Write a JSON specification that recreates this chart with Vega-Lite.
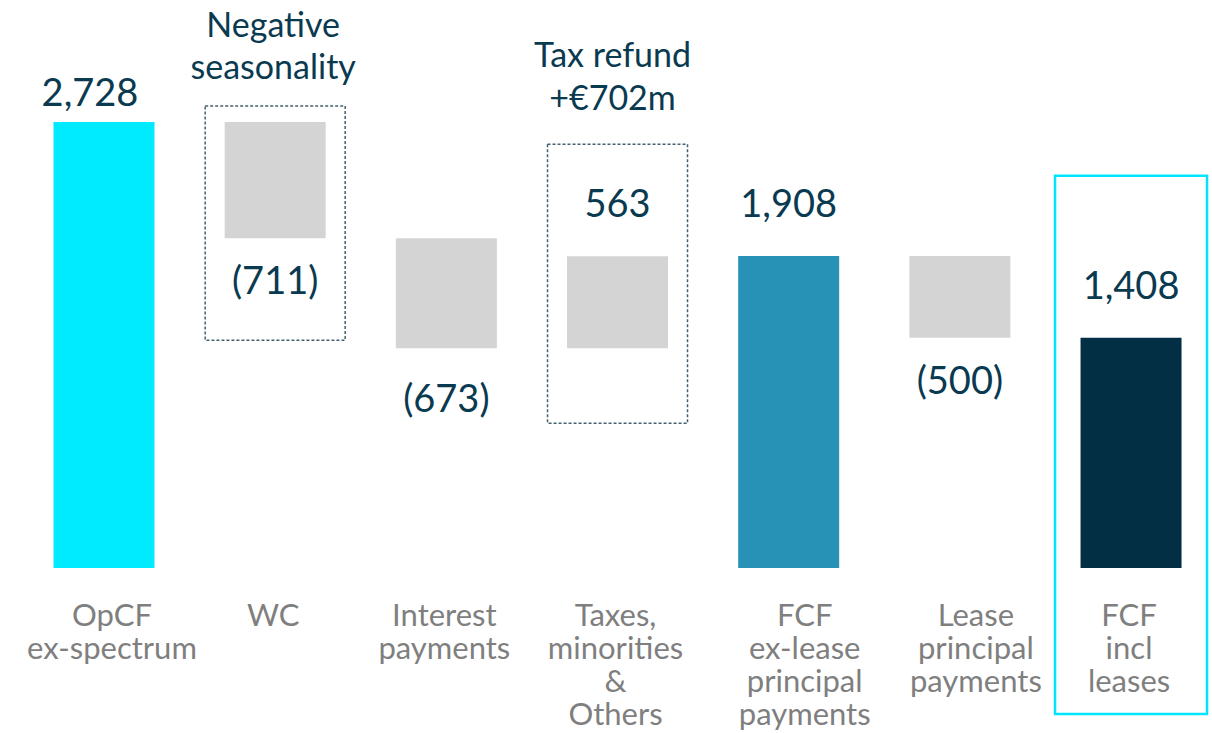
{
  "$schema": "https://vega.github.io/schema/vega-lite/v6.json",
  "width": 1212,
  "height": 733,
  "autosize": {"type": "fit", "contains": "padding"},
  "padding": 0,
  "background": "white",
  "config": {"view": {"stroke": null}, "text": {"font": "Lato"}},
  "data": {
    "values": [
      {"i": 0, "cat": ["OpCF", "ex-spectrum"], "start": 0, "end": 2728, "label": "2,728", "grp": "opcf"},
      {"i": 1, "cat": ["WC"], "start": 2728, "end": 2017, "label": "(711)", "grp": "chg", "note": ["Negative", "seasonality"]},
      {"i": 2, "cat": ["Interest", "payments"], "start": 2017, "end": 1344, "label": "(673)", "grp": "chg"},
      {"i": 3, "cat": ["Taxes,", "minorities", "&", "Others"], "start": 1344, "end": 1907, "label": "563", "grp": "chg", "note": ["Tax refund", "+€702m"]},
      {"i": 4, "cat": ["FCF", "ex-lease", "principal", "payments"], "start": 0, "end": 1908, "label": "1,908", "grp": "fcfex"},
      {"i": 5, "cat": ["Lease", "principal", "payments"], "start": 1908, "end": 1408, "label": "(500)", "grp": "chg"},
      {"i": 6, "cat": ["FCF", "incl", "leases"], "start": 0, "end": 1408, "label": "1,408", "grp": "fcfincl"}
    ]
  },
  "encoding": {
    "x": {"field": "i", "type": "quantitative", "scale": {"domain": [-0.6076, 6.473], "nice": false, "zero": false, "padding": 0}, "axis": null}
  },
  "layer": [
    {
      "mark": {"type": "bar", "width": 101},
      "encoding": {
        "y": {"field": "start", "type": "quantitative", "scale": {"domain": [-1009, 3474], "nice": false, "zero": false}, "axis": null},
        "y2": {"field": "end"},
        "color": {"field": "grp", "type": "nominal", "legend": null,
          "scale": {"domain": ["opcf", "chg", "fcfex", "fcfincl"], "range": ["#00EBFF", "#D4D4D4", "#2892B6", "#032F44"]}}
      }
    },
    {
      "transform": [{"filter": "datum.i == 1"}],
      "mark": {"type": "bar", "width": 140, "fill": "transparent", "stroke": "#44606F", "strokeWidth": 1.5, "strokeDash": [3, 2], "yOffset": -16, "y2Offset": 102},
      "encoding": {
        "y": {"field": "start", "type": "quantitative", "scale": {"domain": [-1009, 3474], "nice": false, "zero": false}, "axis": null},
        "y2": {"field": "end"}
      }
    },
    {
      "transform": [{"filter": "datum.i == 3"}],
      "mark": {"type": "bar", "width": 140, "fill": "transparent", "stroke": "#44606F", "strokeWidth": 1.5, "strokeDash": [3, 2], "yOffset": -112, "y2Offset": 75},
      "encoding": {
        "y": {"field": "end", "type": "quantitative", "scale": {"domain": [-1009, 3474], "nice": false, "zero": false}, "axis": null},
        "y2": {"field": "start"}
      }
    },
    {
      "transform": [{"filter": "datum.i == 6"}],
      "mark": {"type": "bar", "width": 152, "fill": "transparent", "stroke": "#00E5FF", "strokeWidth": 2.5, "yOffset": -162, "y2Offset": 146},
      "encoding": {
        "y": {"field": "end", "type": "quantitative", "scale": {"domain": [-1009, 3474], "nice": false, "zero": false}, "axis": null},
        "y2": {"field": "start"}
      }
    },
    {
      "transform": [{"filter": "datum.i == 0"}],
      "mark": {"type": "text", "fontSize": 38, "color": "#0A3A50", "align": "center", "baseline": "alphabetic", "dy": -16, "dx": -14},
      "encoding": {
        "y": {"field": "end", "type": "quantitative", "scale": {"domain": [-1009, 3474], "nice": false, "zero": false}, "axis": null},
        "text": {"field": "label"}
      }
    },
    {
      "transform": [{"filter": "datum.i == 3 || datum.i == 4 || datum.i == 6"}],
      "mark": {"type": "text", "fontSize": 38, "color": "#0A3A50", "align": "center", "baseline": "alphabetic", "dy": -39},
      "encoding": {
        "y": {"field": "end", "type": "quantitative", "scale": {"domain": [-1009, 3474], "nice": false, "zero": false}, "axis": null},
        "text": {"field": "label"}
      }
    },
    {
      "transform": [{"filter": "datum.i == 1 || datum.i == 5"}],
      "mark": {"type": "text", "fontSize": 38, "color": "#0A3A50", "align": "center", "baseline": "alphabetic", "dy": 56},
      "encoding": {
        "y": {"field": "end", "type": "quantitative", "scale": {"domain": [-1009, 3474], "nice": false, "zero": false}, "axis": null},
        "text": {"field": "label"}
      }
    },
    {
      "transform": [{"filter": "datum.i == 2"}],
      "mark": {"type": "text", "fontSize": 38, "color": "#0A3A50", "align": "center", "baseline": "alphabetic", "dy": 64},
      "encoding": {
        "y": {"field": "end", "type": "quantitative", "scale": {"domain": [-1009, 3474], "nice": false, "zero": false}, "axis": null},
        "text": {"field": "label"}
      }
    },
    {
      "transform": [{"filter": "datum.i == 1"}],
      "mark": {"type": "text", "fontSize": 34, "color": "#0A3A50", "align": "center", "baseline": "alphabetic", "dy": -85, "dx": -2, "lineHeight": 42},
      "encoding": {
        "y": {"field": "start", "type": "quantitative", "scale": {"domain": [-1009, 3474], "nice": false, "zero": false}, "axis": null},
        "text": {"field": "note"}
      }
    },
    {
      "transform": [{"filter": "datum.i == 3"}],
      "mark": {"type": "text", "fontSize": 34, "color": "#0A3A50", "align": "center", "baseline": "alphabetic", "dy": -189, "dx": -5, "lineHeight": 43},
      "encoding": {
        "y": {"field": "end", "type": "quantitative", "scale": {"domain": [-1009, 3474], "nice": false, "zero": false}, "axis": null},
        "text": {"field": "note"}
      }
    },
    {
      "transform": [{"filter": "datum.i == 1 || datum.i == 2 || datum.i == 3 || datum.i == 6"}],
      "mark": {"type": "text", "fontSize": 31, "color": "#7F7F7F", "align": "center", "baseline": "alphabetic", "dy": 58, "dx": -2, "lineHeight": 33},
      "encoding": {
        "y": {"datum": 0, "type": "quantitative", "scale": {"domain": [-1009, 3474], "nice": false, "zero": false}, "axis": null},
        "text": {"field": "cat"}
      }
    },
    {
      "transform": [{"filter": "datum.i == 0"}],
      "mark": {"type": "text", "fontSize": 31, "color": "#7F7F7F", "align": "center", "baseline": "alphabetic", "dy": 58, "dx": 8, "lineHeight": 33},
      "encoding": {
        "y": {"datum": 0, "type": "quantitative", "scale": {"domain": [-1009, 3474], "nice": false, "zero": false}, "axis": null},
        "text": {"field": "cat"}
      }
    },
    {
      "transform": [{"filter": "datum.i == 4 || datum.i == 5"}],
      "mark": {"type": "text", "fontSize": 31, "color": "#7F7F7F", "align": "center", "baseline": "alphabetic", "dy": 58, "dx": 16, "lineHeight": 33},
      "encoding": {
        "y": {"datum": 0, "type": "quantitative", "scale": {"domain": [-1009, 3474], "nice": false, "zero": false}, "axis": null},
        "text": {"field": "cat"}
      }
    }
  ]
}
